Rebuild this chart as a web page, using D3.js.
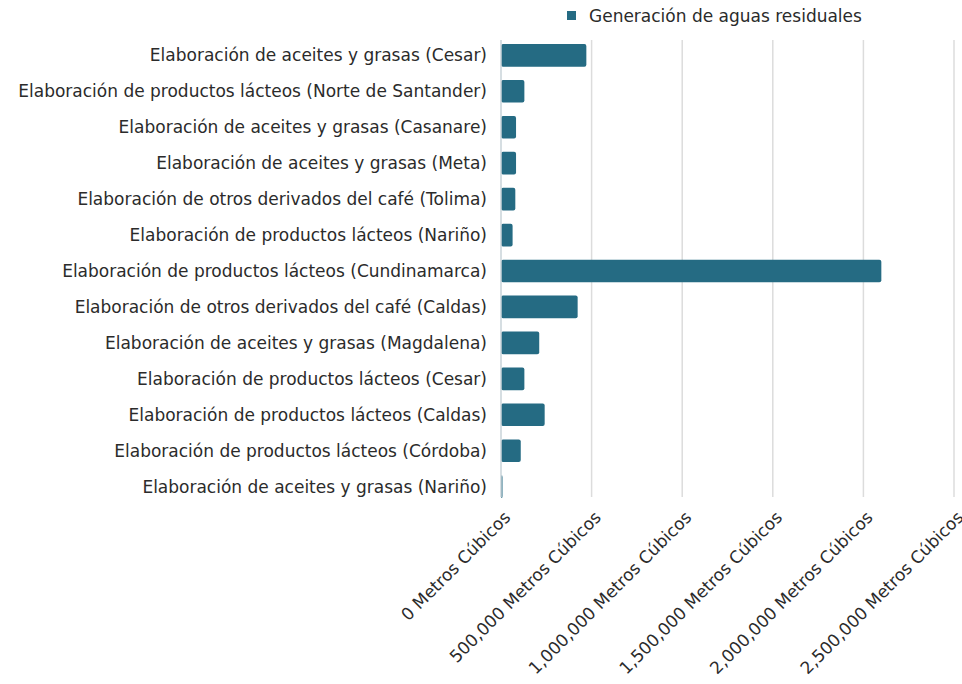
<!DOCTYPE html>
<html>
<head>
<meta charset="utf-8">
<script src="https://cdn.jsdelivr.net/npm/d3@7"></script>
<style>
  body { margin: 0; background: #fff; }
  text { font-family: "DejaVu Sans", sans-serif; fill: #2b2b2b; }
</style>
</head>
<body>
<div class="chart"></div>
<script>
var categories = [
  "Elaboración de aceites y grasas (Cesar)",
  "Elaboración de productos lácteos (Norte de Santander)",
  "Elaboración de aceites y grasas (Casanare)",
  "Elaboración de aceites y grasas (Meta)",
  "Elaboración de otros derivados del café (Tolima)",
  "Elaboración de productos lácteos (Nariño)",
  "Elaboración de productos lácteos (Cundinamarca)",
  "Elaboración de otros derivados del café (Caldas)",
  "Elaboración de aceites y grasas (Magdalena)",
  "Elaboración de productos lácteos (Cesar)",
  "Elaboración de productos lácteos (Caldas)",
  "Elaboración de productos lácteos (Córdoba)",
  "Elaboración de aceites y grasas (Nariño)"
];
var values = [471000, 129000, 83000, 83000, 79000, 64000, 2099000, 423000, 211000, 129000, 241000, 109000, 5000];
var tickValues = [0, 500000, 1000000, 1500000, 2000000, 2500000];
var seriesName = "Generación de aguas residuales";

var margin = {top: 38, right: 8, bottom: 187, left: 501};
var fontSize = "17px";

var svg = d3.select(".chart").append("svg")
    .attr("width", 962)
    .attr("height", 684);

var g = svg.append("g")
    .attr("transform", "translate(" + margin.left + "," + margin.top + ")");

var x = d3.scaleLinear()
    .domain([0, 2500000])
    .range([0, 453]);

var y = d3.scaleBand()
    .domain(categories)
    .range([6, 460])
    .paddingInner(0.37)
    .paddingOuter(0);

// gridlines
g.selectAll(".grid")
    .data(tickValues.slice(1))
  .enter().append("line")
    .attr("x1", function(d) { return x(d); })
    .attr("x2", function(d) { return x(d); })
    .attr("y1", 2)
    .attr("y2", 459)
    .attr("stroke", "#dcdcdc")
    .attr("stroke-width", 1.5);

g.selectAll(".bar")
    .data(values)
  .enter().append("rect")
    .attr("x", 0)
    .attr("y", function(d, i) { return y(categories[i]); })
    .attr("width", function(d) { return Math.max(x(d), 1.5); })
    .attr("height", y.bandwidth())
    .attr("rx", 2)
    .attr("fill", "#256b83");

// zero axis line
g.append("line")
    .attr("x1", 0).attr("x2", 0)
    .attr("y1", 2).attr("y2", 459)
    .attr("stroke", "#c8d3d8")
    .attr("stroke-width", 1.5);

// category labels
g.selectAll(".cat")
    .data(categories)
  .enter().append("text")
    .attr("x", -14)
    .attr("y", function(d) { return y(d) + y.bandwidth() / 2; })
    .attr("dy", "0.35em")
    .attr("text-anchor", "end")
    .style("font-size", fontSize)
    .text(function(d) { return d; });

// x tick labels
var fmt = d3.format(",");
g.selectAll(".tick")
    .data(tickValues)
  .enter().append("text")
    .attr("transform", function(d) { return "translate(" + (x(d) + 2) + "," + 472 + ") rotate(-45)"; })
    .attr("text-anchor", "end")
    .attr("dy", "0.7em")
    .style("font-size", fontSize)
    .text(function(d) { return fmt(d) + " Metros Cúbicos"; });

// legend
var legend = svg.append("g").attr("transform", "translate(567,11)");
legend.append("rect")
    .attr("width", 9).attr("height", 9)
    .attr("fill", "#256b83");
legend.append("text")
    .attr("x", 22).attr("y", 5)
    .attr("dy", "0.35em")
    .style("font-size", fontSize)
    .text(seriesName);
</script>
</body>
</html>
